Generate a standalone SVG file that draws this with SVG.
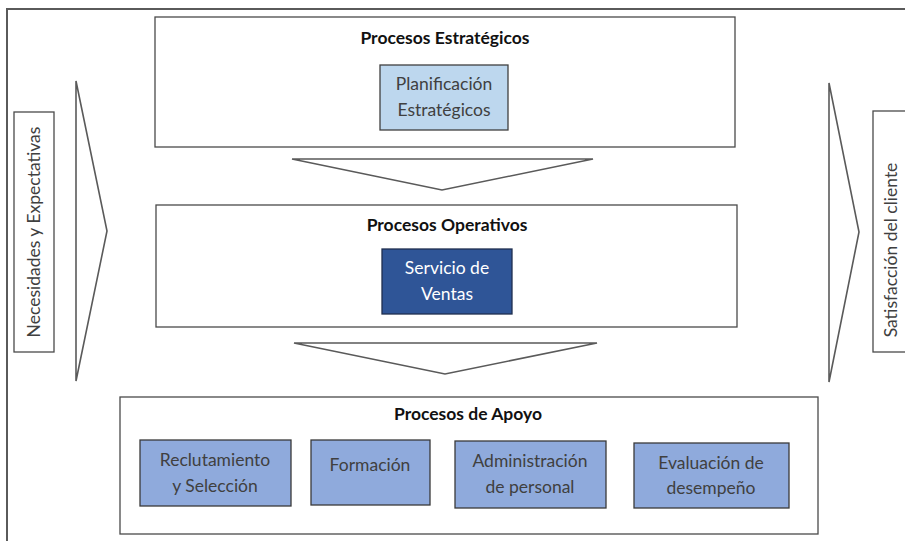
<svg xmlns="http://www.w3.org/2000/svg" width="905" height="541" viewBox="0 0 905 541">
<style>
  .frame { fill: none; stroke: #5a5a5a; stroke-width: 2; }
  .box { fill: #ffffff; stroke: #4a4a4a; stroke-width: 1.3; }
  .arrow { fill: #ffffff; stroke: #5a5a5a; stroke-width: 1.6; stroke-linejoin: miter; }
  .title { font-family: Lato, "Liberation Sans", sans-serif; font-weight: bold; font-size: 17.5px; fill: #111111; text-anchor: middle; }
  .lbl { font-family: Lato, "Liberation Sans", sans-serif; font-size: 17.5px; fill: #404040; text-anchor: middle; }
  .lblw { font-family: Lato, "Liberation Sans", sans-serif; font-size: 17.5px; fill: #ffffff; text-anchor: middle; }
  .light { fill: #bdd7ee; stroke: #404040; stroke-width: 1.3; }
  .dark { fill: #2f5597; stroke: #1f2f4f; stroke-width: 1.3; }
  .mid { fill: #8faadc; stroke: #3a3a3a; stroke-width: 1.3; }
</style>
<rect width="905" height="541" fill="#ffffff"/>
<path class="frame" d="M7,541 V9 H905"/>

<g id="connectors">
  <polygon class="arrow" points="76,81 107,231 76,381"/>
  <polygon class="arrow" points="829,83 859,232 829,382"/>
  <polygon class="arrow" points="292,159 593,159 442,190"/>
  <polygon class="arrow" points="294,343 597,343 445,374"/>
</g>

<g id="necesidades">
  <rect class="box" x="14" y="112" width="40" height="240"/>
  <text class="lbl" transform="translate(40,232) rotate(-90)">Necesidades y Expectativas</text>
</g>

<g id="satisfaccion">
  <rect class="box" x="873" y="111" width="40" height="241"/>
  <text class="lbl" transform="translate(897,250) rotate(-90)">Satisfacción del cliente</text>
</g>

<g id="estrategicos">
  <rect class="box" x="155" y="17" width="580" height="130"/>
  <text class="title" x="445" y="44">Procesos Estratégicos</text>
</g>
<g id="planificacion">
  <rect class="light" x="380" y="65" width="128" height="65"/>
  <text class="lbl" x="444" y="90">Planificación</text>
  <text class="lbl" x="444" y="116">Estratégicos</text>
</g>

<g id="operativos">
  <rect class="box" x="156" y="205" width="581" height="122"/>
  <text class="title" x="447" y="231">Procesos Operativos</text>
</g>
<g id="servicio">
  <rect class="dark" x="382" y="249" width="130" height="65"/>
  <text class="lblw" x="447" y="274">Servicio de</text>
  <text class="lblw" x="447" y="300">Ventas</text>
</g>

<g id="apoyo">
  <rect class="box" x="120" y="397" width="698" height="137"/>
  <text class="title" x="468" y="420">Procesos de Apoyo</text>
</g>
<g id="reclutamiento">
  <rect class="mid" x="140" y="440" width="151" height="66"/>
  <text class="lbl" x="215" y="466">Reclutamiento</text>
  <text class="lbl" x="215" y="492">y Selección</text>
</g>
<g id="formacion">
  <rect class="mid" x="311" y="440" width="119" height="65"/>
  <text class="lbl" x="370" y="471">Formación</text>
</g>
<g id="administracion">
  <rect class="mid" x="455" y="441" width="151" height="67"/>
  <text class="lbl" x="530" y="467">Administración</text>
  <text class="lbl" x="530" y="493">de personal</text>
</g>
<g id="evaluacion">
  <rect class="mid" x="634" y="443" width="155" height="65"/>
  <text class="lbl" x="711" y="469">Evaluación de</text>
  <text class="lbl" x="711" y="494">desempeño</text>
</g>
</svg>
